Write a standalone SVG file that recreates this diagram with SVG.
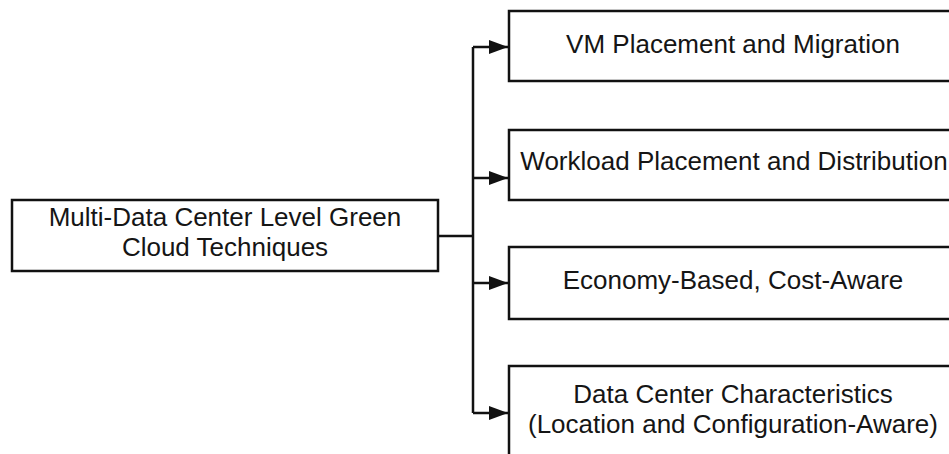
<svg xmlns="http://www.w3.org/2000/svg" width="949" height="454" viewBox="0 0 949 454">
<defs>
<style>
.box{fill:#fff;stroke:#111;stroke-width:2.5}
.t{font-family:"Liberation Sans",Arial,sans-serif;font-size:26px;fill:#151515;text-anchor:middle}
.c{fill:none;stroke:#111;stroke-width:2.5}
</style>
<marker id="ah" markerWidth="19" markerHeight="14" refX="19" refY="7" orient="auto" markerUnits="userSpaceOnUse">
<path d="M0,0 L19,7 L0,14 Z" fill="#111"/>
</marker>
</defs>
<rect width="949" height="454" fill="#fff"/>
<g id="connectors">
<path class="c" d="M438,236 H473"/>
<path class="c" d="M473,47 V413"/>
<path class="c" d="M473,47 H508" marker-end="url(#ah)"/>
<path class="c" d="M473,178 H508" marker-end="url(#ah)"/>
<path class="c" d="M473,283 H508" marker-end="url(#ah)"/>
<path class="c" d="M473,413 H508" marker-end="url(#ah)"/>
</g>
<g id="source">
<rect class="box" x="12" y="200" width="426" height="71"/>
<text class="t" x="225" y="226">Multi-Data Center Level Green</text>
<text class="t" x="225" y="256">Cloud Techniques</text>
</g>
<g id="vm">
<rect class="box" x="509" y="11" width="448" height="70"/>
<text class="t" x="733" y="53">VM Placement and Migration</text>
</g>
<g id="workload">
<rect class="box" x="509" y="130" width="448" height="70"/>
<text class="t" x="734" y="170">Workload Placement and Distribution</text>
</g>
<g id="economy">
<rect class="box" x="509" y="247" width="448" height="72"/>
<text class="t" x="733" y="289">Economy-Based, Cost-Aware</text>
</g>
<g id="datacenter">
<rect class="box" x="509" y="366" width="448" height="100"/>
<text class="t" x="733" y="403">Data Center Characteristics</text>
<text class="t" x="733" y="433">(Location and Configuration-Aware)</text>
</g>
</svg>
